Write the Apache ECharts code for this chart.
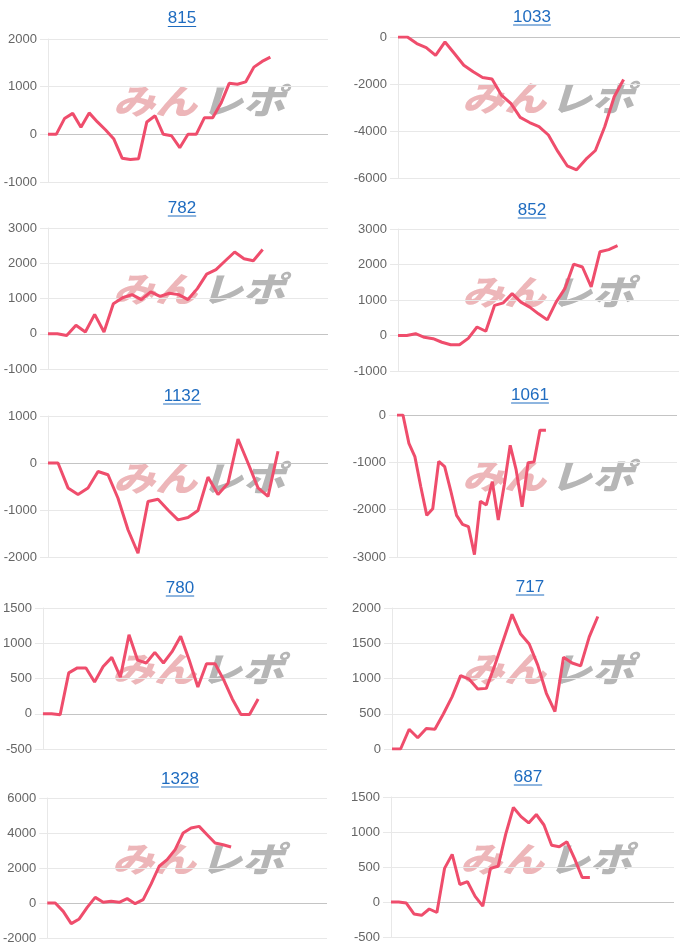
<!DOCTYPE html>
<html>
<head>
<meta charset="utf-8">
<script src="https://cdn.jsdelivr.net/npm/echarts@6/dist/echarts.min.js"></script>
<style>
html,body{margin:0;padding:0;background:#ffffff;}
#c{width:700px;height:948px;}
</style>
</head>
<body>
<div id="c"></div>
<script>
// ---- data ----
const titles = ['815', '1033', '782', '852', '1132', '1061', '780', '717', '1328', '687'];

const s815  = [0, 0, 330, 440, 150, 450, 260, 90, -100, -500, -530, -510, 260, 390, 0, -30, -280, 0, 0, 350, 350, 650, 1070, 1050, 1100, 1410, 1530, 1620];
const s1033 = [0, 0, -280, -450, -780, -210, -700, -1200, -1480, -1720, -1790, -2470, -2820, -3420, -3640, -3810, -4170, -4870, -5480, -5650, -5200, -4830, -3810, -2540, -1810];
const s782  = [0, 0, -50, 240, 50, 550, 50, 850, 1020, 1110, 970, 1190, 1060, 1150, 1110, 970, 1280, 1690, 1820, 2070, 2320, 2130, 2070, 2390];
const s852  = [0, 0, 50, -50, -90, -190, -260, -260, -80, 240, 120, 850, 920, 1180, 940, 800, 610, 440, 940, 1320, 2010, 1930, 1370, 2360, 2420, 2530];
const s1132 = [0, 0, -530, -670, -530, -180, -250, -750, -1420, -1920, -820, -770, -1000, -1210, -1160, -1010, -300, -670, -430, 510, 0, -530, -710, 250];
const s1061 = [0, 0, -600, -880, -1520, -2120, -1980, -980, -1090, -1590, -2120, -2310, -2360, -2950, -1820, -1900, -1410, -2220, -1480, -640, -1160, -1940, -1010, -990, -320, -320];
const s780  = [0, 0, -15, 580, 650, 650, 450, 670, 800, 520, 1120, 760, 720, 870, 720, 880, 1100, 760, 380, 710, 710, 480, 210, -10, -10, 210];
const s717  = [0, 0, 280, 160, 290, 280, 500, 740, 1040, 990, 850, 860, 1190, 1550, 1910, 1630, 1490, 1190, 790, 530, 1300, 1220, 1180, 1590, 1880];
const s1328 = [0, 0, -480, -1180, -910, -250, 320, 40, 100, 40, 250, -40, 190, 1090, 2100, 2480, 3050, 4000, 4290, 4380, 3900, 3430, 3330, 3200];
const s687  = [0, 0, -15, -170, -190, -100, -150, 480, 680, 250, 290, 80, -60, 480, 510, 970, 1350, 1220, 1130, 1250, 1100, 810, 790, 860, 620, 350, 350];

const seriesValues = [s815, s1033, s782, s852, s1132, s1061, s780, s717, s1328, s687];
const slotCounts = [35, 31, 31, 33, 29, 48, 34, 34, 36, 38];   // x categories per chart
const yMins  = [-1000, -6000, -1000, -1000, -2000, -3000, -500, 0, -2000, -500];
const yMaxs  = [2000, 0, 3000, 3000, 1000, 0, 1500, 2000, 6000, 1500];
const ySteps = [1000, 2000, 1000, 1000, 1000, 1000, 500, 500, 2000, 500];

// ---- layout (pixels) ----
const panels = [
  {gl: 48,  gr: 328, gt: 39,  gb: 182, tx: 182, ty: 19.5, wx: 113, wy: 101},
  {gl: 398, gr: 680, gt: 37,  gb: 178, tx: 532, ty: 18,   wx: 462, wy: 98},
  {gl: 48,  gr: 328, gt: 228, gb: 369, tx: 182, ty: 209,  wx: 113, wy: 289},
  {gl: 398, gr: 679, gt: 229, gb: 371, tx: 532, ty: 211,  wx: 462, wy: 292},
  {gl: 48,  gr: 328, gt: 416, gb: 557, tx: 182, ty: 397,  wx: 113, wy: 478},
  {gl: 397, gr: 677, gt: 415, gb: 557, tx: 530, ty: 396,  wx: 462, wy: 476},
  {gl: 42,  gr: 327, gt: 608, gb: 749, tx: 180, ty: 589,  wx: 112, wy: 669},
  {gl: 392, gr: 675, gt: 608, gb: 749, tx: 530, ty: 588,  wx: 462, wy: 669},
  {gl: 46,  gr: 327, gt: 798, gb: 938, tx: 180, ty: 780,  wx: 112, wy: 859},
  {gl: 391, gr: 674, gt: 797, gb: 937, tx: 528, ty: 778,  wx: 460, wy: 859}
];

const LINK = '#1f6cc0';
const LINE = '#ef4d6c';
const GRID = '#e8e8e8';
const ZERO = '#c4c4c4';
const FONT = '"Liberation Sans", Arial, Helvetica, sans-serif';

const option = {
  animation: false,
  backgroundColor: '#ffffff',
  title: [], grid: [], xAxis: [], yAxis: [], series: [], graphic: []
};

panels.forEach((p, i) => {
  option.title.push({
    text: titles[i],
    left: p.tx, top: p.ty - 9.5, padding: 0,
    textAlign: 'center',
    textStyle: {color: LINK, fontSize: 17, fontWeight: 'normal', fontFamily: FONT}
  });
  const w = titles[i].length * 9.45;
  option.graphic.push({
    type: 'line', silent: true, z: 5,
    shape: {x1: p.tx - w / 2, y1: p.ty + 7, x2: p.tx + w / 2, y2: p.ty + 7},
    style: {stroke: LINK, lineWidth: 1}
  });
  // watermark logo
  option.graphic.push({
    type: 'text', silent: true, z: 0, x: p.wx, y: p.wy, scaleY: 0.82,
    style: {text: 'みん', fill: '#edb6b9', font: 'italic 900 42px "Noto Sans CJK JP"', verticalAlign: 'middle', align: 'left'}
  });
  option.graphic.push({
    type: 'text', silent: true, z: 0, x: p.wx + 88, y: p.wy, scaleY: 0.82,
    style: {text: 'レポ', fill: '#b6b6b6', font: 'italic 900 42px "Noto Sans CJK JP"', verticalAlign: 'middle', align: 'left'}
  });

  option.grid.push({left: p.gl, top: p.gt, width: p.gr - p.gl, height: p.gb - p.gt, containLabel: false});

  const cats = [];
  for (let k = 1; k <= slotCounts[i]; k++) cats.push(String(k));
  option.xAxis.push({
    type: 'category', gridIndex: i, data: cats, boundaryGap: false,
    axisLine: {show: false}, axisTick: {show: false}, axisLabel: {show: false}, splitLine: {show: false}
  });

  const nLines = Math.round((yMaxs[i] - yMins[i]) / ySteps[i]) + 1;
  const colors = [];
  for (let k = 0; k < nLines; k++) colors.push(yMins[i] + k * ySteps[i] === 0 ? ZERO : GRID);
  option.yAxis.push({
    type: 'value', gridIndex: i, min: yMins[i], max: yMaxs[i], interval: ySteps[i],
    axisLine: {show: true, lineStyle: {color: GRID, width: 1}},
    axisTick: {show: true, length: 8, lineStyle: {color: GRID, width: 1}},
    axisLabel: {color: '#666666', fontSize: 13, fontFamily: FONT, margin: 11, formatter: v => String(v)},
    splitLine: {show: true, lineStyle: {color: colors, width: 1}}
  });

  option.series.push({
    type: 'line', xAxisIndex: i, yAxisIndex: i, data: seriesValues[i],
    smooth: false, symbol: 'none', showSymbol: false, z: 3,
    lineStyle: {color: LINE, width: 3}, itemStyle: {color: LINE}
  });
});

const chart = echarts.init(document.getElementById('c'), null, {renderer: 'canvas'});
chart.setOption(option);
</script>
</body>
</html>
